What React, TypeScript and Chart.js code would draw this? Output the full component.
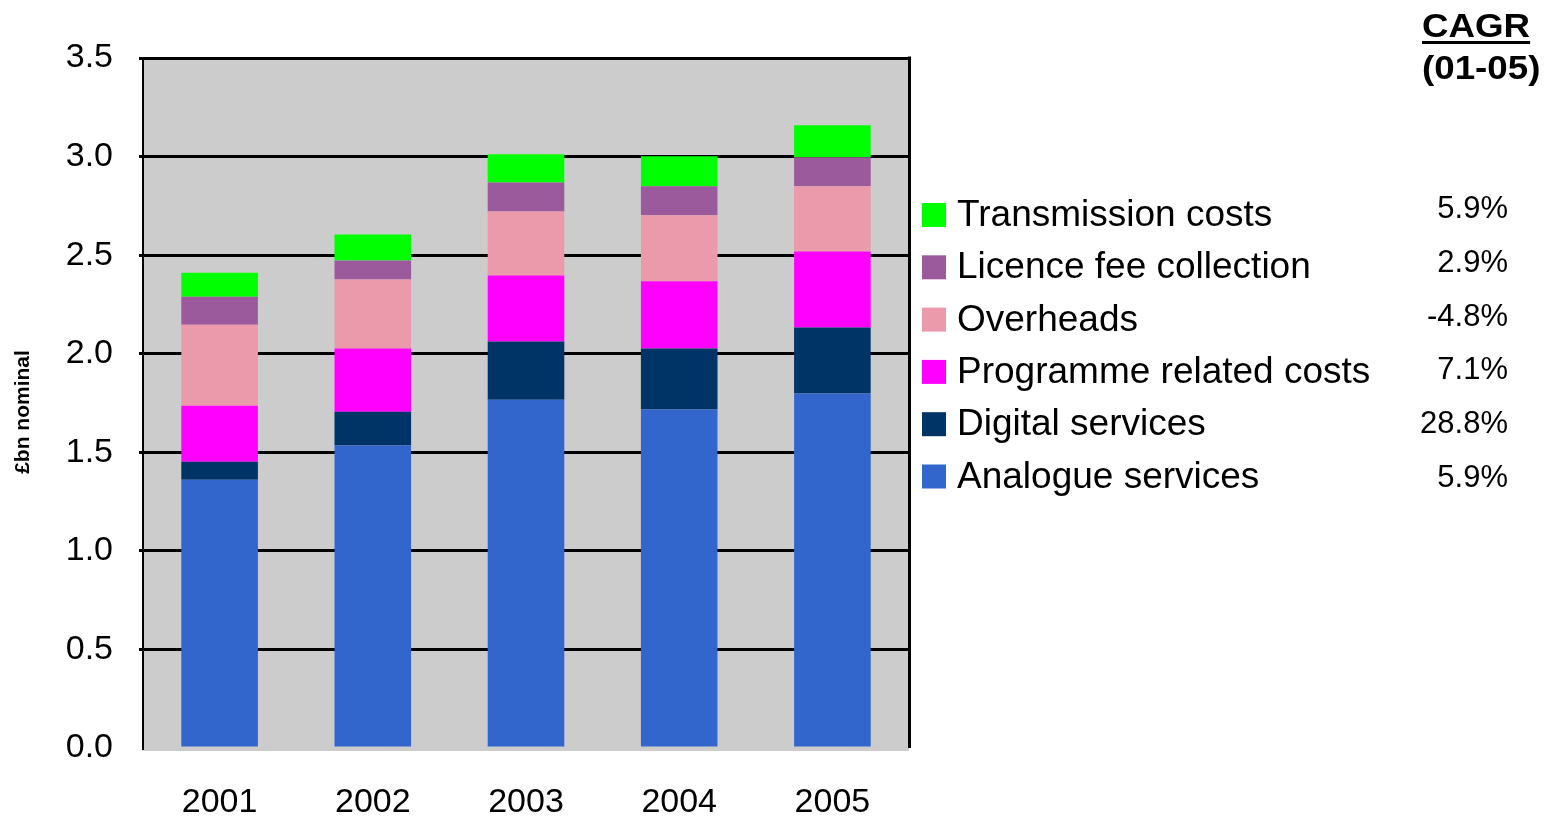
import React, { useEffect, useRef } from 'react';
import { Chart, registerables } from 'chart.js';

Chart.register(...registerables);

const years = ['2001', '2002', '2003', '2004', '2005'];

const analogueServices = [1.361, 1.534, 1.767, 1.717, 1.798];
const digitalServices = [0.091, 0.172, 0.295, 0.309, 0.335];
const programmeRelated = [0.284, 0.320, 0.335, 0.341, 0.386];
const overheads = [0.411, 0.351, 0.325, 0.335, 0.330];
const licenceFee = [0.142, 0.096, 0.147, 0.147, 0.147];
const transmission = [0.122, 0.132, 0.143, 0.153, 0.163];

const seriesNames = [
  'Analogue services',
  'Digital services',
  'Programme related costs',
  'Overheads',
  'Licence fee collection',
  'Transmission costs',
];
const seriesValues = [analogueServices, digitalServices, programmeRelated, overheads, licenceFee, transmission];
const seriesColors = ['#3366CC', '#003366', '#FF00FF', '#EA9AAA', '#9B5A9B', '#00FF00'];
const cagrValues = ['5.9%', '28.8%', '7.1%', '-4.8%', '2.9%', '5.9%'];

const yMin = 0;
const yMax = 3.5;
const yStep = 0.5;
const yAxisTitle = '£bn nominal';
const cagrHeader = ['CAGR', '(01-05)'];

const FONT = '"Liberation Sans", Arial, sans-serif';

const decorPlugin = {
  id: 'decor',
  beforeDraw(chart: any) {
    const { ctx, chartArea } = chart;
    ctx.save();
    ctx.fillStyle = '#CCCCCC';
    ctx.fillRect(chartArea.left, chartArea.top, chartArea.right - chartArea.left, chartArea.bottom - chartArea.top + 3);
    ctx.restore();
  },
  afterDraw(chart: any) {
    const { ctx, chartArea } = chart;
    ctx.save();
    // right border
    ctx.strokeStyle = '#000';
    ctx.lineWidth = 3;
    ctx.beginPath();
    ctx.moveTo(chartArea.right + 0.5, chartArea.top - 1.5);
    ctx.lineTo(chartArea.right + 0.5, chartArea.bottom);
    ctx.stroke();

    // y axis title
    ctx.save();
    ctx.translate(23, 412);
    ctx.rotate(-Math.PI / 2);
    ctx.font = `bold 21px ${FONT}`;
    ctx.fillStyle = '#000';
    ctx.textAlign = 'center';
    ctx.textBaseline = 'middle';
    ctx.fillText(yAxisTitle, 0, 0);
    ctx.restore();

    // legend
    const n = seriesNames.length;
    for (let row = 0; row < n; row++) {
      const idx = n - 1 - row;
      const base = 225 + row * 52.3;
      ctx.fillStyle = seriesColors[idx];
      ctx.fillRect(922, base - 22, 24, 24);
      ctx.fillStyle = '#000';
      ctx.font = `37px ${FONT}`;
      ctx.textAlign = 'left';
      ctx.textBaseline = 'alphabetic';
      ctx.fillText(seriesNames[idx], 957, base + 1);
      ctx.font = `31px ${FONT}`;
      ctx.textAlign = 'right';
      ctx.fillText(cagrValues[idx], 1508, 218 + row * 53.8);
    }

    // CAGR header
    ctx.font = `bold 34px ${FONT}`;
    ctx.textAlign = 'left';
    ctx.fillStyle = '#000';
    const baselines = [37, 79];
    cagrHeader.forEach((t, i) => {
      ctx.save();
      ctx.translate(1422, baselines[i]);
      ctx.scale(1.08, 1);
      ctx.fillText(t, 0, 0);
      if (i === 0) {
        const w = ctx.measureText(t).width;
        ctx.fillRect(0, 4, w, 3);
      }
      ctx.restore();
    });
    ctx.restore();
  },
};

export default function App() {
  const ref = useRef<HTMLCanvasElement>(null);

  useEffect(() => {
    if (!ref.current) return;
    const chart = new Chart(ref.current, {
      type: 'bar',
      data: {
        labels: years,
        datasets: seriesNames.map((name, i) => ({
          label: name,
          data: seriesValues[i],
          backgroundColor: seriesColors[i],
          borderWidth: 0,
          barPercentage: 0.5,
          categoryPercentage: 1,
        })),
      },
      options: {
        responsive: false,
        animation: false,
        devicePixelRatio: 1,
        layout: { padding: { left: 0, top: 58, right: 647, bottom: 0 } },
        plugins: {
          legend: { display: false },
          tooltip: { enabled: false },
        },
        scales: {
          x: {
            stacked: true,
            grid: { display: false, drawTicks: false },
            border: { display: false },
            ticks: {
              color: '#000',
              font: { family: FONT, size: 34 },
              padding: 34,
            },
            afterFit(scale: any) {
              scale.height = 68;
            },
          },
          y: {
            stacked: true,
            min: yMin,
            max: yMax,
            ticks: {
              stepSize: yStep,
              color: '#000',
              font: { family: FONT, size: 34 },
              padding: 26,
              callback: (v: any) => Number(v).toFixed(1),
            },
            grid: {
              color: (c: any) => (c.tick && c.tick.value === 0 ? 'rgba(0,0,0,0)' : '#000'),
              lineWidth: 3,
              drawTicks: true,
              tickLength: 4,
            },
            border: { display: true, color: '#000', width: 2 },
            afterFit(scale: any) {
              scale.width = 143;
            },
          },
        },
      },
      plugins: [decorPlugin],
    });
    return () => chart.destroy();
  }, []);

  return (
    <div style={{ position: 'absolute', left: 0, top: 0, width: 1556, height: 816, background: '#fff' }}>
      <canvas ref={ref} width={1556} height={816} style={{ display: 'block', width: 1556, height: 816 }} />
    </div>
  );
}
